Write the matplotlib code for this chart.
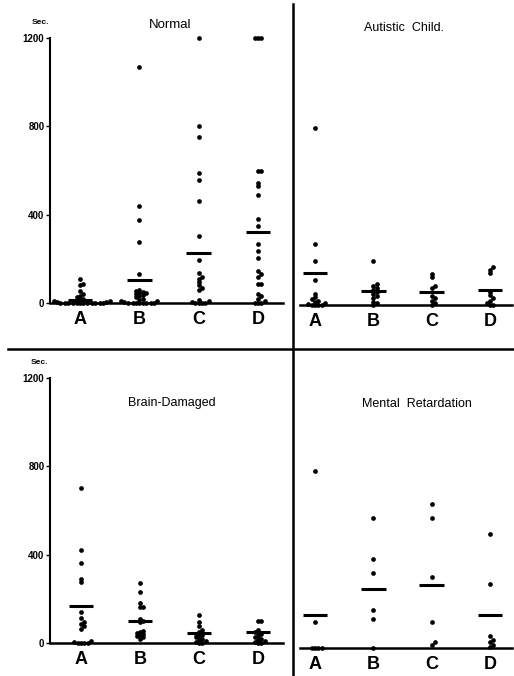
import numpy as np
import matplotlib.pyplot as plt
from matplotlib.lines import Line2D

plt.rcParams['font.family'] = ['Liberation Sans', 'DejaVu Sans']

W, H = 514, 676
groups = ["A", "B", "C", "D"]

# seconds per subject, one list per condition
normal_a = [110, 85, 80, 55, 40, 30, 25, 20, 15, 10, 10, 5, 5, 0, 0, 0, 0, 0, 0, 0, 0, 0, 0, 0, 0]
normal_b = [1067, 440, 375, 275, 130, 60, 55, 50, 45, 45, 40, 35, 30, 25, 20, 15, 10, 10, 5,
            0, 0, 0, 0, 0, 0, 0, 0]
normal_c = [1200, 800, 750, 590, 555, 460, 305, 195, 135, 120, 110, 95, 80, 70, 60, 15, 10, 5,
            0, 0, 0, 0]
normal_d = [1200, 1200, 1200, 600, 600, 545, 530, 490, 380, 350, 265, 235, 205, 145, 130, 120,
            86, 86, 40, 30, 20, 10, 0, 0, 0]
normal_means = [15, 104, 226, 321]

autistic_a = [800, 275, 200, 115, 50, 35, 25, 20, 15, 10, 5, 0, 0, 0, 0]
autistic_b = [200, 95, 85, 75, 70, 60, 50, 40, 30, 15, 10, 0]
autistic_c = [140, 125, 85, 75, 40, 30, 20, 10, 0]
autistic_d = [170, 160, 145, 60, 45, 30, 20, 10, 0, 0]
autistic_means = [145, 64, 58, 70]

brain_a = [702, 423, 362, 290, 275, 140, 112, 95, 85, 75, 65, 10, 5, 0, 0, 0, 0]
brain_b = [272, 232, 180, 165, 165, 110, 100, 95, 55, 50, 45, 40, 35, 30, 25, 20]
brain_c = [127, 96, 78, 60, 50, 40, 35, 30, 25, 20, 15, 10, 5, 0, 0]
brain_d = [100, 100, 60, 50, 45, 40, 30, 25, 20, 15, 10, 5, 0, 0]
brain_means = [169, 101, 45, 48]

retard_a = [800, 120, 0, 0, 0, 0]
retard_b = [590, 405, 340, 170, 130, 0]
retard_c = [650, 590, 320, 120, 25, 15]
retard_d = [515, 290, 55, 35, 25, 15, 5]
retard_means = [150, 265, 285, 150]

yticks = [0, 400, 800, 1200]


def swarm(values, px_y, px_x, diam=3.3):
    # simple beeswarm: push each point sideways until it no longer overlaps
    vals = sorted(values)
    placed = []
    xs = []
    step = diam * 0.5
    for v in vals:
        y = v * px_y
        k = 0
        while True:
            cands = [0.0] if k == 0 else [k * step, -k * step]
            ok = None
            for c in cands:
                if all((c - px) ** 2 + (y - py) ** 2 >= diam ** 2 for px, py in placed):
                    ok = c
                    break
            if ok is not None:
                placed.append((ok, y))
                xs.append(ok / px_x)
                break
            k += 1
    return np.array(xs), np.array(vals)


def panel(left, right, top, bottom, x_a, x_d):
    ax = fig.add_axes([left / W, 1 - bottom / H, (right - left) / W, (bottom - top) / H])
    sp = (x_d - x_a) / 3
    ax.set_xlim(-(x_a - left) / sp, 3 + (right - x_d) / sp)
    ax.set_ylim(0, 1200)
    for s in ["top", "right"]:
        ax.spines[s].set_visible(False)
    ax.spines["bottom"].set_linewidth(1.8)
    ax.set_xticks(range(4))
    ax.set_xticklabels(groups, fontsize=13, fontweight="bold")
    ax.tick_params(axis="x", length=0, pad=6)
    return ax, sp


def draw(ax, sp, data, means):
    px_y = ax.bbox.height / 1200
    for i, vals in enumerate(data):
        dx, v = swarm(vals, px_y, sp)
        ax.plot(i + dx, v, "o", ms=3.4, color="black", mew=0, clip_on=False)
        ax.hlines(means[i], i - 0.21, i + 0.21, color="black", lw=2.2)


fig = plt.figure(figsize=(W / 100, H / 100), dpi=100)

ax1, sp1 = panel(50, 283, 38, 303, 80, 258)
ax2, sp2 = panel(300, 512, 40, 305, 315, 490)
ax3, sp3 = panel(50, 283, 378, 643, 81, 258)
ax4, sp4 = panel(300, 512, 383, 648, 315, 490)

for ax in (ax1, ax3):
    ax.spines["left"].set_linewidth(1.5)
    ax.set_yticks(yticks)
    ax.set_yticklabels([str(t) for t in yticks], fontsize=7, fontweight="bold")
    ax.tick_params(axis="y", direction="out", length=3, width=1, pad=1)
for ax in (ax2, ax4):
    ax.spines["left"].set_visible(False)
    ax.set_yticks([])

draw(ax1, sp1, [normal_a, normal_b, normal_c, normal_d], normal_means)
draw(ax2, sp2, [autistic_a, autistic_b, autistic_c, autistic_d], autistic_means)
draw(ax3, sp3, [brain_a, brain_b, brain_c, brain_d], brain_means)
draw(ax4, sp4, [retard_a, retard_b, retard_c, retard_d], retard_means)

# panel titles and unit labels
fig.text(170 / W, 1 - 25 / H, "Normal", fontsize=9.5, ha="center", va="center")
fig.text(404 / W, 1 - 28 / H, "Autistic  Child.", fontsize=9, ha="center", va="center")
fig.text(172 / W, 1 - 403 / H, "Brain-Damaged", fontsize=9, ha="center", va="center")
fig.text(417 / W, 1 - 404 / H, "Mental  Retardation", fontsize=9, ha="center", va="center")
fig.text(40 / W, 1 - 22 / H, "Sec.", fontsize=6, fontweight="bold", ha="center", va="center")
fig.text(39 / W, 1 - 362 / H, "Sec.", fontsize=6, fontweight="bold", ha="center", va="center")

# dividers between the four panels
fig.add_artist(Line2D([293 / W, 293 / W], [0, 1 - 4 / H], lw=1.8, color="black",
                      transform=fig.transFigure))
fig.add_artist(Line2D([8 / W, 1], [1 - 349 / H, 1 - 349 / H], lw=1.8, color="black",
                      transform=fig.transFigure))

fig.savefig("out.png", dpi=100)
